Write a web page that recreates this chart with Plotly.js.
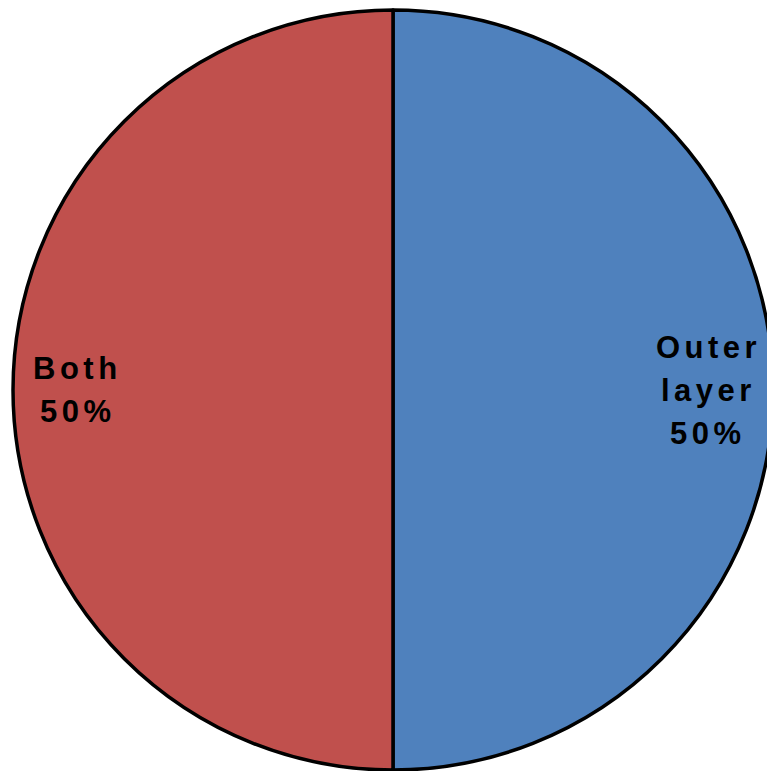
<!DOCTYPE html>
<html>
<head>
<meta charset="utf-8">
<script src="https://cdn.plot.ly/plotly-3.0.1.min.js"></script>
<style>
  html, body { margin: 0; padding: 0; overflow: hidden; background: #fff; }
  #chart { width: 773px; height: 771px; }
  .annotation-text { letter-spacing: 4.5px; }
</style>
</head>
<body>
<div id="chart"></div>
<script>
const labels = ["Outer layer", "Both"];
const values = [50, 50];
const colors = ["#4F81BD", "#C0504D"];

const W = 773, H = 771;
const M = { l: 13, r: 0, t: 10, b: 1 };
const plotW = W - M.l - M.r, plotH = H - M.t - M.b;
const R = Math.min(plotW, plotH) / 2;
const cx = M.l + plotW / 2, cy = M.t + plotH / 2;

const total = values.reduce((a, b) => a + b, 0);
const annotations = [];
let cum = 0;
const labelRadius = 0.83, lineGap = 43;
values.forEach((v, i) => {
  const mid = (cum + v / 2) / total; // fraction, clockwise from 12 o'clock
  cum += v;
  const ang = mid * 2 * Math.PI;
  const px = cx + labelRadius * R * Math.sin(ang);
  const py = cy - labelRadius * R * Math.cos(ang);
  const pct = Math.round(v / total * 100) + "%";
  const lines = labels[i].split(" ").concat([pct]);
  lines.forEach((ln, j) => {
    const ly = py + (j - (lines.length - 1) / 2) * lineGap;
    annotations.push({
      xref: "paper", yref: "paper",
      x: (px - M.l) / plotW, y: 1 - (ly - M.t) / plotH,
      xanchor: "center", yanchor: "middle",
      text: "<b>" + ln + "</b>", showarrow: false,
      font: { family: "Liberation Sans, Arial, sans-serif", size: 31, color: "#000" }
    });
  });
});

Plotly.newPlot("chart", [{
  type: "pie",
  labels: labels,
  values: values,
  sort: false,
  direction: "clockwise",
  rotation: 0,
  textinfo: "none",
  hoverinfo: "label+percent",
  marker: { colors: colors, line: { color: "#000", width: 3.5 } },
  domain: { x: [0, 1], y: [0, 1] }
}], {
  width: W, height: H,
  margin: M,
  showlegend: false,
  paper_bgcolor: "#fff",
  annotations: annotations
}, { displayModeBar: false, staticPlot: true });
</script>
</body>
</html>
